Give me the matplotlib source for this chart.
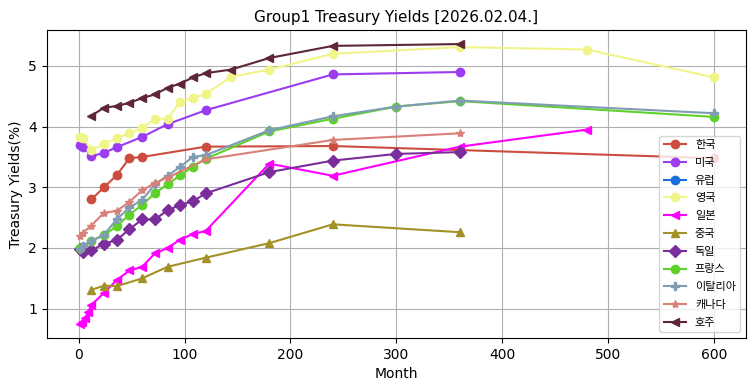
import matplotlib
matplotlib.use("Agg")
import matplotlib.pyplot as plt

plt.rcParams['font.family'] = ['DejaVu Sans', 'Noto Sans CJK KR']

names = ['한국', '미국', '유럽', '영국', '일본', '중국', '독일', '프랑스', '이탈리아', '캐나다', '호주']
colors = ['#cc4c3f', '#9b3cf0', '#1a6fdc', '#f0f58a', '#ff00ff', '#a39128',
          '#7b2d9c', '#5ed12a', '#7f9cb3', '#d98078', '#5e2637']
markers = ['o', 'o', 'o', 'o', '<', '^', 'D', 'o', 'P', '*', '<']

kr_m = [12, 24, 36, 48, 60, 120, 240, 600]
kr_v = [2.80, 3.00, 3.20, 3.48, 3.50, 3.67, 3.68, 3.48]

us_m = [1, 4, 12, 24, 36, 60, 84, 120, 240, 360]
us_v = [3.69, 3.67, 3.51, 3.57, 3.66, 3.83, 4.04, 4.27, 4.86, 4.90]

eu_m = []
eu_v = []

uk_m = [1, 4, 12, 24, 36, 48, 60, 72, 84, 96, 108, 120, 144, 180, 240, 360, 480, 600]
uk_v = [3.83, 3.82, 3.61, 3.72, 3.81, 3.89, 3.98, 4.13, 4.13, 4.41, 4.47, 4.54,
        4.82, 4.94, 5.20, 5.31, 5.27, 4.81]

jp_m = [1, 3, 6, 9, 12, 24, 36, 48, 60, 72, 84, 96, 108, 120, 180, 240, 360, 480]
jp_v = [0.74, 0.78, 0.84, 0.94, 1.06, 1.26, 1.47, 1.63, 1.69, 1.91, 2.00, 2.14,
        2.23, 2.28, 3.39, 3.19, 3.67, 3.95]

cn_m = [12, 24, 36, 60, 84, 120, 180, 240, 360]
cn_v = [1.31, 1.38, 1.37, 1.50, 1.69, 1.84, 2.08, 2.39, 2.26]

de_m = [1, 4, 12, 24, 36, 48, 60, 72, 84, 96, 108, 120, 180, 240, 300, 360]
de_v = [1.99, 1.94, 1.96, 2.07, 2.13, 2.31, 2.47, 2.47, 2.62, 2.71, 2.77, 2.90,
        3.25, 3.44, 3.55, 3.58]

fr_m = [1, 12, 24, 36, 48, 60, 72, 84, 96, 108, 120, 180, 240, 300, 360, 600]
fr_v = [2.00, 2.12, 2.21, 2.36, 2.55, 2.71, 2.90, 3.05, 3.20, 3.34, 3.47, 3.92,
        4.13, 4.33, 4.42, 4.16]

it_m = [1, 4, 12, 24, 36, 48, 60, 72, 84, 96, 108, 120, 180, 240, 300, 360, 600]
it_v = [1.99, 2.03, 2.11, 2.22, 2.47, 2.67, 2.79, 3.05, 3.19, 3.34, 3.50, 3.53,
        3.94, 4.17, 4.33, 4.43, 4.22]

ca_m = [1, 4, 12, 24, 36, 48, 60, 72, 84, 120, 240, 360]
ca_v = [2.20, 2.25, 2.37, 2.58, 2.61, 2.76, 2.95, 3.07, 3.16, 3.46, 3.78, 3.89]

au_m = [12, 24, 36, 48, 60, 72, 84, 96, 108, 120, 144, 180, 240, 360]
au_v = [4.18, 4.31, 4.34, 4.39, 4.47, 4.53, 4.64, 4.71, 4.81, 4.88, 4.94, 5.13, 5.33, 5.36]

series_m = [kr_m, us_m, eu_m, uk_m, jp_m, cn_m, de_m, fr_m, it_m, ca_m, au_m]
series_v = [kr_v, us_v, eu_v, uk_v, jp_v, cn_v, de_v, fr_v, it_v, ca_v, au_v]

fig = plt.figure(figsize=(7.55, 3.91), dpi=100)
ax = fig.add_axes([0.062, 0.136, 0.926, 0.787])

for name, c, mk, m, v in zip(names, colors, markers, series_m, series_v):
    ax.plot(m, v, color=c, marker=mk, label=name, linewidth=1.5, markersize=6)

ax.grid(True)
ax.set_title('Group1 Treasury Yields [2026.02.04.]', fontsize=11)
ax.set_xlabel('Month')
ax.set_ylabel('Treasury Yields(%)')
ax.set_xlim(-30, 630)
ax.set_ylim(0.52, 5.59)
ax.legend(loc='lower right', fontsize=8, labelspacing=0.7)

fig.savefig('out.png', dpi=100)
